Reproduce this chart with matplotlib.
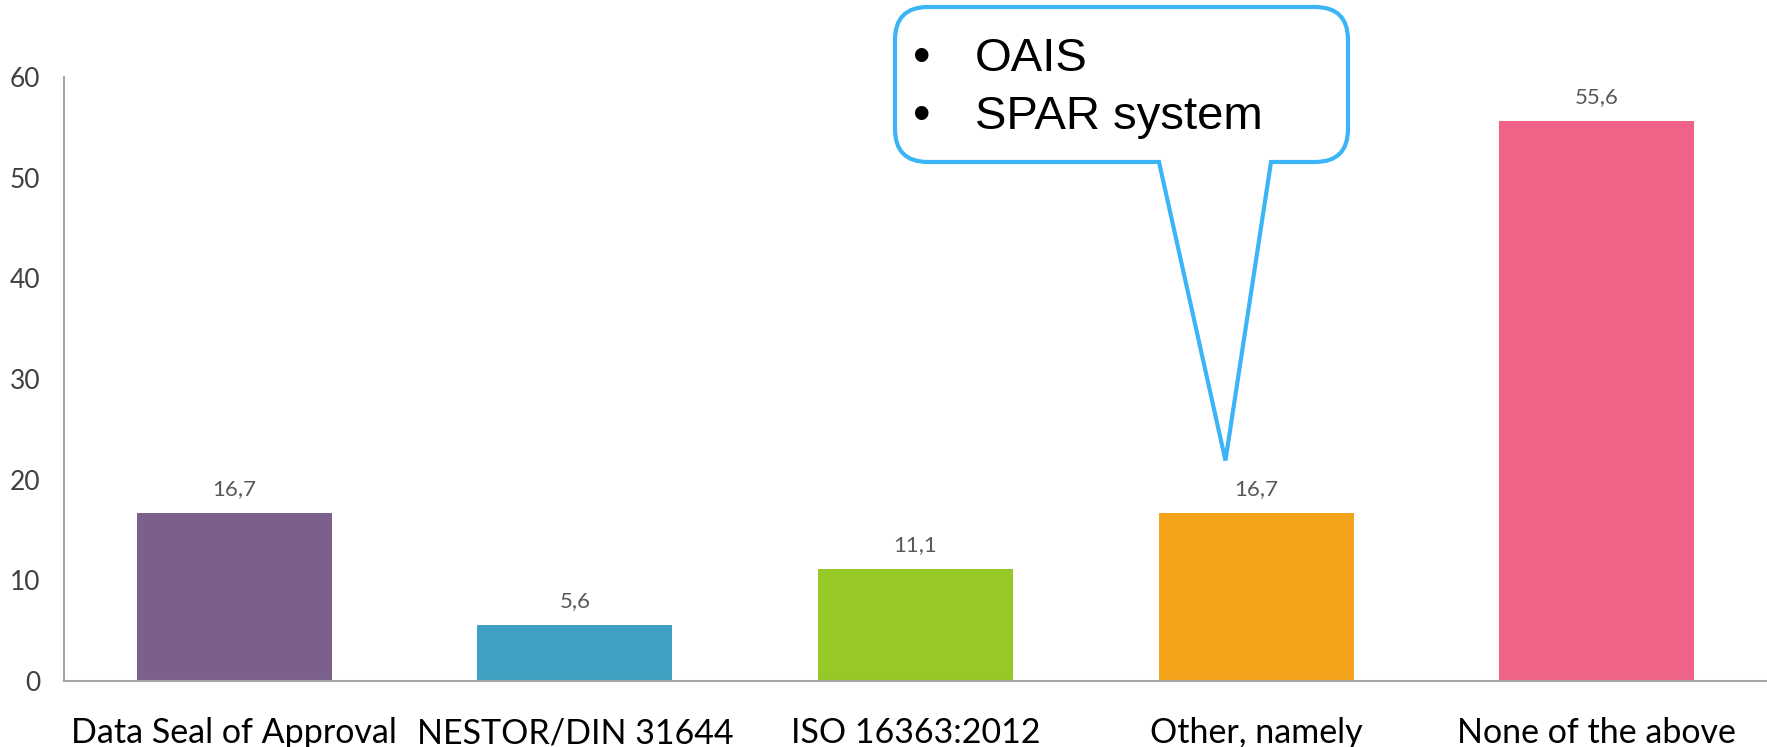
import matplotlib
matplotlib.use("Agg")
import matplotlib.pyplot as plt
from matplotlib.path import Path
from matplotlib.patches import PathPatch

categories = ["Data Seal of Approval", "NESTOR/DIN 31644", "ISO 16363:2012",
              "Other, namely", "None of the above"]
values = [16.7, 5.6, 11.1, 16.7, 55.6]
value_labels = ["16,7", "5,6", "11,1", "16,7", "55,6"]
bar_colors = ["#7b5f8d", "#40a2c3", "#97c827", "#f4a41b", "#ef6486"]
callout_lines = ["OAIS", "SPAR system"]

W, H = 1767, 747
fig = plt.figure(figsize=(W / 100, H / 100), dpi=100)
ax = fig.add_axes([64 / W, 1 - 681 / H, 1 - 64 / W, (681 - 77) / H])

x = range(len(categories))
ax.bar(x, values, width=0.573, color=bar_colors, zorder=2)
for i, v in enumerate(values):
    ax.annotate(value_labels[i], (i, v), xytext=(0, 24), textcoords="offset pixels",
                ha="center", va="center", fontsize=16, color="#595959", family="Lato")

ax.set_xlim(-0.5, 4.5)
ax.set_ylim(0, 60)
ax.set_yticks(range(0, 61, 10))
ax.set_xticks(list(x))
ax.set_xticklabels(categories, fontsize=24.5, family="Lato")
for t in ax.get_yticklabels():
    t.set_fontsize(19)
    t.set_family("Lato")
    t.set_color("#404040")
ax.tick_params(axis="both", length=0)
ax.tick_params(axis="x", pad=26)
ax.tick_params(axis="y", pad=17)
for s in ["top", "right"]:
    ax.spines[s].set_visible(False)
for s in ["left", "bottom"]:
    ax.spines[s].set_color("#a6a6a6")
    ax.spines[s].set_linewidth(1.5)

# callout bubble (pixel coords, y measured from top)
x0, x1, y0, y1, r = 895, 1348, 7, 162, 33
xl, xr = 1159, 1271
fig.canvas.draw()
tx, ty = ax.transData.transform((2.91, 21.9))
tip = (tx, H - ty)
pts = [(x0 + r, y0), (x1 - r, y0), (x1, y0), (x1, y0 + r), (x1, y1 - r), (x1, y1), (x1 - r, y1),
       (xr, y1), tip, (xl, y1), (x0 + r, y1), (x0, y1), (x0, y1 - r), (x0, y0 + r), (x0, y0),
       (x0 + r, y0), (x0 + r, y0)]
codes = [Path.MOVETO, Path.LINETO, Path.CURVE3, Path.CURVE3, Path.LINETO, Path.CURVE3, Path.CURVE3,
         Path.LINETO, Path.LINETO, Path.LINETO, Path.LINETO, Path.CURVE3, Path.CURVE3, Path.LINETO,
         Path.CURVE3, Path.CURVE3, Path.CLOSEPOLY]
verts = [(px / W, 1 - py / H) for px, py in pts]
bubble = PathPatch(Path(verts, codes), transform=fig.transFigure, facecolor="white",
                   edgecolor="#3bb5f7", linewidth=3, joinstyle="miter", zorder=5)
fig.patches.append(bubble)

for k, line in enumerate(callout_lines):
    yy = 1 - (59 + 58 * k) / H
    fig.text(922 / W, yy, "\u2022", fontsize=36, ha="center", va="center", family="Liberation Sans", zorder=6)
    fig.text(975 / W, yy, line, fontsize=34, ha="left", va="center", family="Liberation Sans", zorder=6)

fig.savefig("out.png", dpi=100, facecolor="white")
